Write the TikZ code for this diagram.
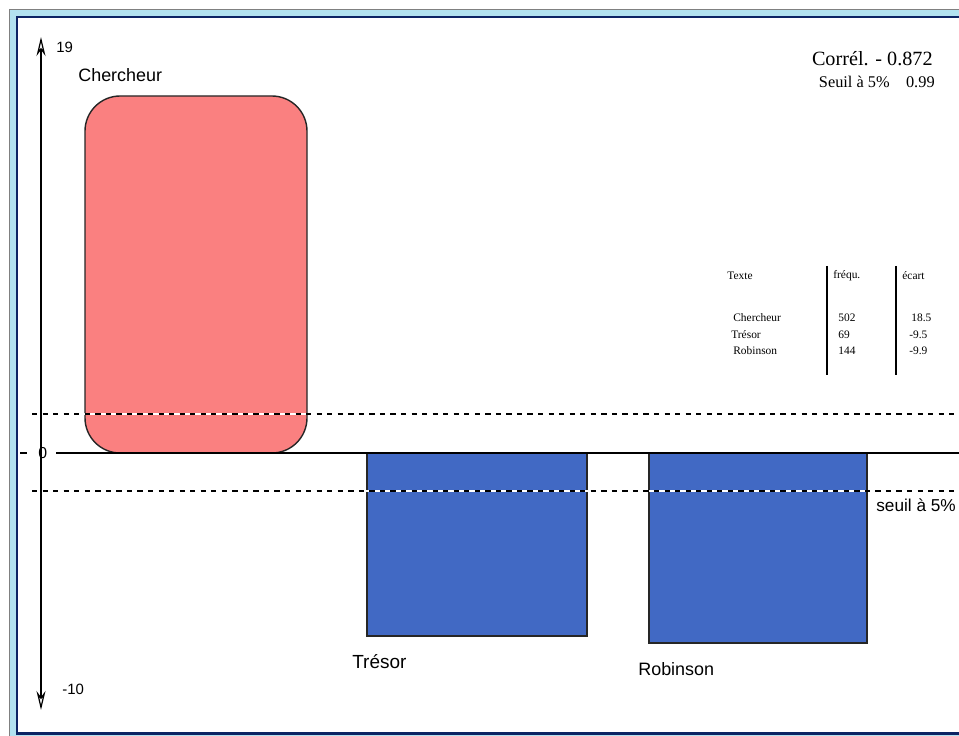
\documentclass[tikz,border=0pt]{standalone}
\usepackage{fontspec}
\setmainfont{Liberation Sans}
\newfontfamily\tabfont{Liberation Serif}
\usetikzlibrary{positioning,arrows.meta}
\definecolor{barred}{RGB}{250,128,128}
\definecolor{barblue}{RGB}{65,105,196}
\definecolor{framecyan}{RGB}{178,226,240}
\definecolor{framenavy}{RGB}{12,36,100}
\tikzset{
  lbl/.style={inner sep=0pt, font=\fontsize{8}{9}\selectfont},
  itemlbl/.style={inner sep=0pt, anchor=west, font=\fontsize{10.2}{11}\selectfont},
  tab/.style={inner sep=0pt, anchor=west, font=\tabfont\fontsize{6.5}{7}\selectfont},
  bar/.style={draw=black!85, line width=0.8pt},
  seuil/.style={dashed, line width=0.6pt, dash pattern=on 3pt off 3pt}
}
\begin{document}
\begin{tikzpicture}[x=0.02cm, y=-0.02cm]
\useasboundingbox (0,0) rectangle (959,736);
% frame
\fill[framecyan] (9,9) rectangle (959,736);
\draw[line width=0.5, color=gray](9,9) -- (959,9);
\draw[line width=0.5, color=gray](9,9) -- (9,736);
\fill[white] (17,17) rectangle (959,733);
\draw[line width=1.7, color=framenavy](959,17) -- (17,17) -- (17,733) -- (959,733);
% bars
\draw[bar, fill=barred, rounded corners=20pt] (85,453) -- (85,96) -- (307,96) -- (307,453) -- cycle;
\draw[bar, fill=barblue] (367,453) rectangle (587,636);
\draw[bar, fill=barblue] (649,453) rectangle (867,643);
% thresholds
\draw[line width=0.6, color=white](32,414) -- (959,414);
\draw[line width=0.6, color=white](32,491) -- (959,491);
\draw[seuil](32,414) -- (959,414);
\draw[seuil](32,491) -- (959,491);
% axes
\coordinate (ytop) at (41,37);
\coordinate (ybot) at (41,710);
\draw[line width=0.7, {Stealth[open,length=0.38cm,width=0.18cm]}-{Stealth[open,length=0.38cm,width=0.18cm]}](ybot) -- (ytop);
\node[lbl, anchor=west, font=\fontsize{9}{10}\selectfont] (zero) at (38,453) {0};
\coordinate (xend) at (959,453);
\draw[line width=0.8](56,453) -- (xend);
\draw[line width=0.8](20,453) -- (27,453);
\node[lbl, anchor=west, font=\fontsize{8.5}{9}\selectfont] (ymax) at (56,47) {19};
\node[lbl, anchor=west, font=\fontsize{8.5}{9}\selectfont] (ymin) at (62,689) {-10};
% labels
\node[itemlbl] (lchercheur) at (78,75) {Chercheur};
\node[itemlbl, font=\fontsize{10.8}{12}\selectfont] (ltresor) at (352,662) {Trésor};
\node[itemlbl] (lrobinson) at (638,669) {Robinson};
\node[itemlbl, font=\fontsize{9.8}{11}\selectfont] (lseuil) at (876,505) {seuil à 5\%};
\node[inner sep=0pt, anchor=east, font=\tabfont\fontsize{11.5}{12}\selectfont] (correl) at (933,59) {Corrél. - 0.872};
\node[inner sep=0pt, anchor=east, font=\tabfont\fontsize{9.3}{10}\selectfont] (seuilval) at (935,82) {Seuil à 5\%\quad 0.99};
% table
\node[tab] (hTexte) at (727,276) {Texte};
\node[tab] (hfreq) at (833,276) {fréqu.};
\node[tab] (hecart) at (902,276) {écart};
\node[tab] (tc) at (733,318) {Chercheur};
\node[tab] (tt) at (731,335) {Trésor};
\node[tab] (tr) at (733,351) {Robinson};
\node[tab] (fc) at (838,318) {502};
\node[tab] (ft) at (838,335) {69};
\node[tab] (fr) at (838,351) {144};
\node[tab] (ec) at (911,318) {18.5};
\node[tab] (et) at (909,335) {-9.5};
\node[tab] (er) at (909,351) {-9.9};
\draw[line width=0.7](827,266) -- (827,375);
\draw[line width=0.7](896,266) -- (896,375);
\end{tikzpicture}
\end{document}
